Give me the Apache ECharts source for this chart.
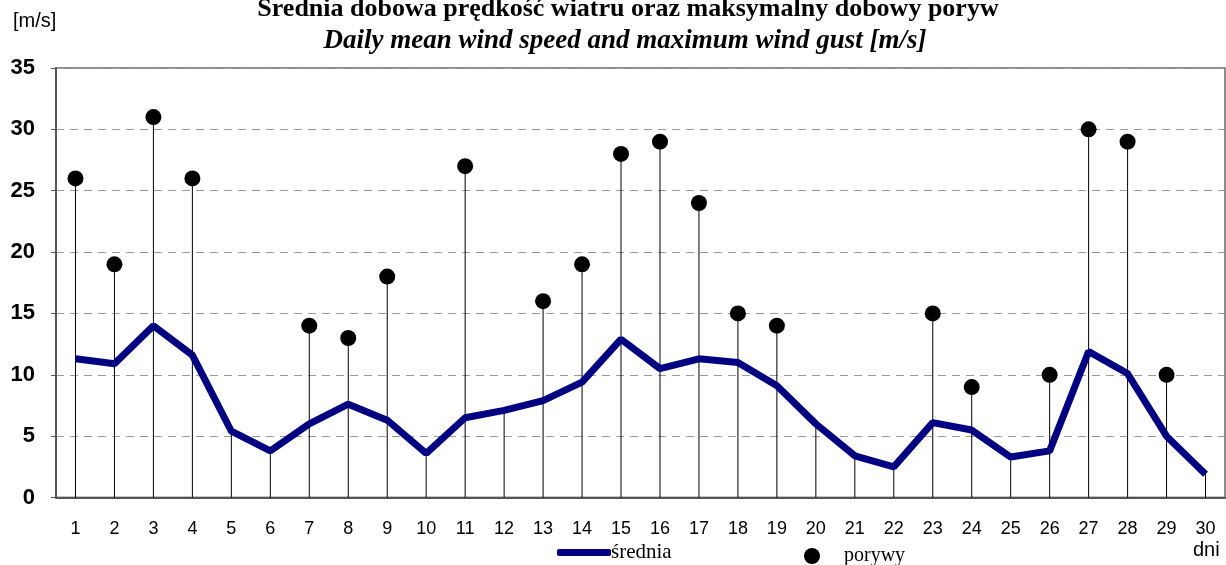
<!DOCTYPE html>
<html><head><meta charset="utf-8">
<script src="https://cdn.jsdelivr.net/npm/echarts@6/dist/echarts.min.js"></script>
<style>html,body{margin:0;padding:0;background:#fff}#c{width:1226px;height:565px}</style>
</head><body><div id="c"></div>
<script>
const days = ['1','2','3','4','5','6','7','8','9','10','11','12','13','14','15','16','17','18','19','20','21','22','23','24','25','26','27','28','29','30'];
const meanSpeed = [11.3,10.9,14.0,11.6,5.4,3.8,6.0,7.6,6.3,3.6,6.5,7.1,7.9,9.4,12.9,10.5,11.3,11.0,9.1,6.0,3.4,2.5,6.1,5.5,3.3,3.8,11.9,10.1,5.0,1.9];
const gusts = [26,19,31,26,null,null,14,13,18,null,27,null,16,19,28,29,24,15,14,null,null,null,15,9,null,10,30,29,10,null];
const yTicks = [0,5,10,15,20,25,30,35];
const titleText = 'Średnia dobowa prędkość wiatru oraz maksymalny dobowy poryw';
const subtitleText = 'Daily mean wind speed and maximum wind gust [m/s]';
const unitText = '[m/s]';
const xName = 'dni';

const stems = days.map((d,i) => gusts[i] != null ? gusts[i] : meanSpeed[i]);

const chart = echarts.init(document.getElementById('c'));
chart.setOption({
  animation: false,
  backgroundColor: '#fff',
  grid: {left: 56, right: 1, top: 68, bottom: 67.5, show: true, borderColor: '#8c8c8c', borderWidth: 2, backgroundColor: 'transparent'},
  graphic: [
    {type:'text', x: 628, y: 22, style:{text: titleText, font:'bold 26px "Liberation Serif"', fill:'#000', align:'center', verticalAlign:'bottom'}},
    {type:'text', x: 625, y: 55, style:{text: subtitleText, font:'italic bold 27px "Liberation Serif"', fill:'#000', align:'center', verticalAlign:'bottom'}},
    {type:'text', x: 13, y: 11, style:{text: unitText, font:'20px "Liberation Sans"', fill:'#000'}},
    {type:'text', x: 1193, y: 540, style:{text: xName, font:'20px "Liberation Sans"', fill:'#000'}}
  ],
  legend: [
    {left: 557, top: 542, itemWidth: 54, itemHeight: 7, icon: 'roundRect', data: ['średnia'], padding: 0,
     textStyle:{fontFamily:'Liberation Serif', fontSize: 21, color:'#000', padding:[6,0,0,-5]}},
    {left: 804, top: 546, itemWidth: 16, itemHeight: 16, icon: 'circle', data: ['porywy'], padding: 0,
     textStyle:{fontFamily:'Liberation Serif', fontSize: 20, color:'#000', padding:[4,0,0,19]}}
  ],
  xAxis: {
    type: 'category', data: days, boundaryGap: true,
    axisLine: {lineStyle:{color:'#555', width: 2}},
    axisTick: {length: 5, lineStyle:{color:'#555'}},
    axisLabel: {fontFamily:'Liberation Sans', fontSize: 18, color:'#000', margin: 23, interval: 0},
    splitLine: {show:false}
  },
  yAxis: {
    type: 'value', min: 0, max: 35, interval: 5,
    axisLine: {show: true, lineStyle:{color:'#555', width: 2}},
    axisTick: {show: true, length: 5, lineStyle:{color:'#555'}},
    axisLabel: {fontFamily:'Liberation Sans', fontWeight:'bold', fontSize: 22, color:'#000', margin: 21,
      formatter: v => yTicks.includes(v) ? String(v) : ''},
    splitLine: {show: true, lineStyle:{color:'#9a9a9a', type:[8,6], width: 1.2}}
  },
  series: [
    {name: 'stems', type: 'bar', data: stems, barWidth: 1, itemStyle:{color:'#000'}, z: 1, silent: true},
    {name: 'średnia', type: 'line', data: meanSpeed, showSymbol: false, symbol: 'none',
     lineStyle:{color:'#000080', width: 7}, itemStyle:{color:'#000080'}, z: 3},
    {name: 'porywy', type: 'scatter', data: gusts, symbol: 'circle', symbolSize: 16,
     itemStyle:{color:'#000', opacity: 1}, z: 4}
  ]
});
</script></body></html>
